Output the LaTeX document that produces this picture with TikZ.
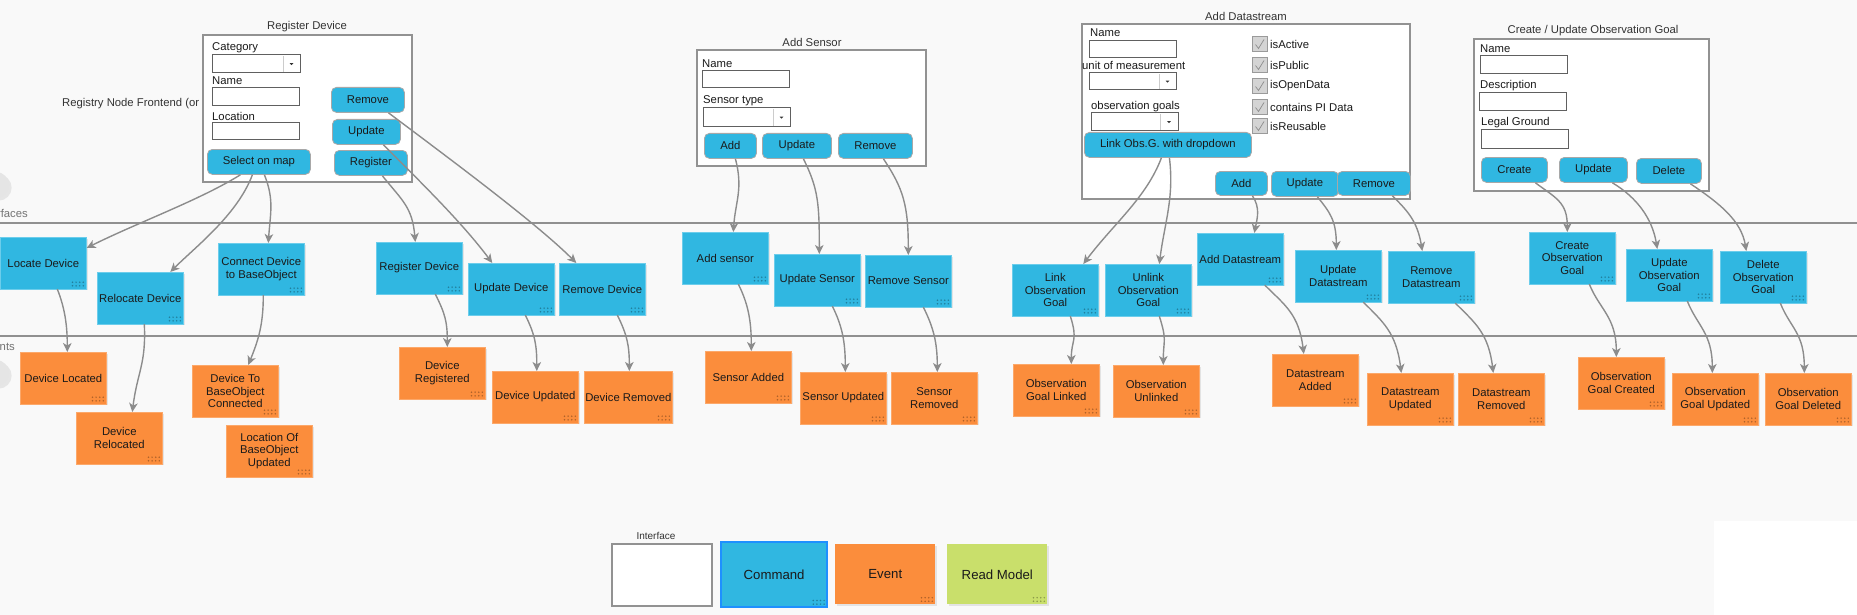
\documentclass[tikz,border=0pt]{standalone}
\usepackage{fontspec}
\setmainfont{Liberation Sans}
\usetikzlibrary{arrows.meta,shadows}
\definecolor{bg}{HTML}{F9F9F9}
\definecolor{cmdc}{HTML}{30B7E1}
\definecolor{cmdb}{HTML}{6CCDEB}
\definecolor{evtc}{HTML}{FB8D3C}
\definecolor{evtb}{HTML}{FCA86A}
\definecolor{rmc}{HTML}{C9DF6B}
\definecolor{lanec}{HTML}{909090}
\definecolor{arrc}{HTML}{8C8C8C}
\definecolor{boxc}{HTML}{929292}
\definecolor{fieldc}{HTML}{606060}
\definecolor{btnb}{HTML}{A8A8A8}
\definecolor{txt}{HTML}{1A1A1A}
\definecolor{ttl}{HTML}{333333}
\definecolor{legb}{HTML}{1E90FF}
\definecolor{chkf}{HTML}{D4D4D4}
\definecolor{chkb}{HTML}{9A9A9A}
\newcommand\nf{\fontsize{11.3}{12.8}\selectfont}
\newcommand\gripdots{\foreach \i in {0,...,3}{\foreach \j in {0,1}{\fill[black,opacity=0.3] ([xshift={-3pt-\i*3.6pt},yshift={3pt+\j*3.6pt}]path picture bounding box.south east) circle (0.85pt);}}}
\tikzset{
  card/.style={anchor=north west, minimum width=86pt, minimum height=51.5pt, inner sep=1pt, align=center, font=\nf, text=txt, line width=0.6pt, drop shadow={shadow xshift=1.2pt, shadow yshift=-1.2pt, opacity=0.18}, path picture={\gripdots}},
  cmd/.style={card, fill=cmdc, draw=cmdb},
  evt/.style={card, fill=evtc, draw=evtb},
  btn/.style={anchor=north west, fill=cmdc, draw=btnb, rounded corners=5pt, line width=0.8pt, inner sep=0pt, font=\nf, text=txt},
  ibox/.style={anchor=north west, fill=white, draw=boxc, line width=1.8pt, inner sep=0pt},
  fld/.style={fill=white, draw=fieldc, line width=1pt},
  lbl/.style={anchor=west, inner sep=0pt, font=\nf, text=txt},
  ttlstyle/.style={inner sep=0pt, font=\nf, text=ttl},
  lane/.style={draw=lanec, line width=2.8pt},
  flow/.style={draw=arrc, line width=1.4pt, -{Stealth[length=9pt,width=8.5pt,inset=2.5pt]}},
}
\newcommand\btn[6]{\node[btn, minimum width={(#4-#2)*1pt}, minimum height={(#5-#3)*1pt}] (#1) at (#2,#3) {#6};}
\newcommand\ibx[5]{\node[ibox, minimum width={(#4-#2)*1pt}, minimum height={(#5-#3)*1pt}] (#1) at (#2,#3) {};}
\newcommand\fld[4]{\draw[fld] (#1,#2) rectangle (#3,#4);}
\newcommand\dd[5]{\draw[fld] (#1,#2) rectangle (#3,#4);
  \draw[draw=black!20, line width=0.8pt] (#5,#2+1) -- (#5,#4-1);
  \fill[black!80] ({(#5+#3)/2-1.8},{(#2+#4)/2-0.8}) -- ({(#5+#3)/2+1.8},{(#2+#4)/2-0.8}) -- ({(#5+#3)/2},{(#2+#4)/2+1.2}) -- cycle;}
\newcommand\chk[3]{\draw[fill=chkf, draw=chkb, line width=0.8pt] (1252,#1-7.5) rectangle (1267,#1+7.5);
  \draw[black!45, line width=0.7pt] (1255.5,#1+0.5) -- (1258.5,#1+4.5) -- (1264,#1-4.5);
  \node[lbl] (#2) at (1270,#1) {#3};}
\begin{document}
\begin{tikzpicture}[x=1pt,y=-1pt]
\clip (0,0) rectangle (1857,615);
\fill[bg] (0,0) rectangle (1857,615);
\fill[white] (1714,521) rectangle (1857,615);
% lanes
\draw[lane] (0,223) -- (1857,223);
\draw[lane] (0,336) -- (1857,336);
\node[anchor=east, inner sep=0pt, font=\nf, text=black!55] (lblif) at (28,213) {Interfaces};
\node[anchor=east, inner sep=0pt, font=\nf, text=black!55] (lblev) at (15,347) {Events};
\fill[black!10, drop shadow={opacity=0.15}] (-4,185) circle (13);
\fill[black!10, drop shadow={opacity=0.15}] (-4,373) circle (13);
\node[lbl, text=ttl] (regfront) at (62,104) {Registry Node Frontend (or};
% ---------- Register Device form
\node[ttlstyle] (t1) at (307,27) {Register Device};
\ibx{rdbox}{202}{34}{411}{181}
\node[lbl] at (212,48) {Category};
\dd{212}{55}{300}{73}{283}
\node[lbl] at (212,81) {Name};
\fld{212}{88}{299}{106}
\node[lbl] at (212,116) {Location};
\fld{212}{123}{299}{140}
\btn{selmap}{207}{149}{310}{174}{Select on map}
\btn{rdremove}{331}{87}{404}{112}{Remove}
\btn{rdupdate}{332}{119}{400}{144}{Update}
\btn{rdregister}{334}{150}{407}{175}{Register}
% ---------- Add Sensor form
\node[ttlstyle] (t2) at (812,42) {Add Sensor};
\ibx{asbox}{696}{49}{925}{165}
\node[lbl] at (702,64) {Name};
\fld{702}{71}{789}{88}
\node[lbl] at (703,101) {Sensor type};
\dd{703}{108}{790}{127}{773}
\btn{sadd}{704}{133}{756}{158}{Add}
\btn{supd}{762}{133}{831}{158}{Update}
\btn{srem}{838}{133}{912}{158}{Remove}
% ---------- Add Datastream form
\node[ttlstyle] (t3) at (1246,16) {Add Datastream};
\ibx{dsbox}{1081}{23}{1409}{198}
\node[lbl] at (1090,33) {Name};
\fld{1089}{41}{1176}{58}
\node[lbl] at (1082,65) {unit of measurement};
\dd{1089}{73}{1176}{90}{1159}
\node[lbl] at (1091,107) {observation goals};
\dd{1091}{113}{1178}{131}{1160}
\btn{linkbtn}{1084}{132}{1251}{157}{Link Obs.G. with dropdown}
\chk{44}{cb1}{isActive}
\chk{65}{cb2}{isPublic}
\chk{86}{cb3}{isOpenData}
\chk{107}{cb4}{contains PI Data}
\chk{126}{cb5}{isReusable}
\btn{dsadd}{1215}{171}{1267}{195}{Add}
\btn{dsupd}{1271}{171}{1338}{196}{Update}
\btn{dsrem}{1337}{171}{1410}{195}{Remove}
% ---------- Observation goal form
\node[ttlstyle] (t4) at (1593,31) {Create / Update Observation Goal};
\ibx{ogbox}{1473}{38}{1708}{190}
\node[lbl] at (1480,49) {Name};
\fld{1480}{56}{1567}{74}
\node[lbl] at (1480,86) {Description};
\fld{1479}{93}{1566}{111}
\node[lbl] at (1481,123) {Legal Ground};
\fld{1481}{130}{1568}{148}
\btn{ogcreate}{1481}{157}{1547}{182}{Create}
\btn{ogupdb}{1559}{157}{1627}{182}{Update}
\btn{ogdelb}{1636}{158}{1701}{183}{Delete}
% ---------- commands
\node[cmd] (locdev) at (0,237) {Locate Device};
\node[cmd] (relocdev) at (97,272) {Relocate Device};
\node[cmd] (conndev) at (218,243) {Connect Device\\to BaseObject};
\node[cmd] (regdev) at (376,242) {Register Device};
\node[cmd] (upddev) at (468,263) {Update Device};
\node[cmd] (remdev) at (559,263) {Remove Device};
\node[cmd] (addsens) at (682,232) {Add sensor};
\node[cmd] (updsens) at (774,254) {Update Sensor};
\node[cmd] (remsens) at (865,255) {Remove Sensor};
\node[cmd] (linkog) at (1012,264) {Link\\Observation\\Goal};
\node[cmd] (unlinkog) at (1105,264) {Unlink\\Observation\\Goal};
\node[cmd] (addds) at (1197,233) {Add Datastream};
\node[cmd] (updds) at (1295,250) {Update\\Datastream};
\node[cmd] (remds) at (1388,251) {Remove\\Datastream};
\node[cmd] (createog) at (1529,232) {Create\\Observation\\Goal};
\node[cmd] (updog) at (1626,249) {Update\\Observation\\Goal};
\node[cmd] (delog) at (1720,251) {Delete\\Observation\\Goal};
% ---------- events
\node[evt] (devlocated) at (20,352) {Device Located};
\node[evt] (devrelocated) at (76,412) {Device\\Relocated};
\node[evt] (devconn) at (192,365) {Device To\\BaseObject\\Connected};
\node[evt] (locupd) at (226,425) {Location Of\\BaseObject\\Updated};
\node[evt] (devreg) at (399,347) {Device\\Registered};
\node[evt] (devupd) at (492,371) {Device Updated};
\node[evt] (devrem) at (584,371) {Device Removed};
\node[evt] (sensadded) at (705,351) {Sensor Added};
\node[evt] (sensupd) at (800,372) {Sensor Updated};
\node[evt] (sensrem) at (891,372) {Sensor\\Removed};
\node[evt] (oglinked) at (1013,364) {Observation\\Goal Linked};
\node[evt] (ogunlinked) at (1113,365) {Observation\\Unlinked};
\node[evt] (dsadded) at (1272,354) {Datastream\\Added};
\node[evt] (dsupdev) at (1367,373) {Datastream\\Updated};
\node[evt] (dsremev) at (1458,373) {Datastream\\Removed};
\node[evt] (ogcreated) at (1578,357) {Observation\\Goal Created};
\node[evt] (ogupdev) at (1672,373) {Observation\\Goal Updated};
\node[evt] (ogdel) at (1765,373) {Observation\\Goal Deleted};
% ---------- connectors
\draw[flow] ([xshift=-18.5pt]selmap.south) .. controls +(-40,25) and +(50,-25) .. ([yshift=-11pt]locdev.north east);
\draw[flow] ([xshift=-6.5pt]selmap.south) .. controls +(-15,40) and +(25,-25) .. ([xshift=30pt]relocdev.north);
\draw[flow] ([xshift=5.5pt]selmap.south) .. controls +(10,25) and +(2,-30) .. ([xshift=7pt]conndev.north);
\draw[flow] ([xshift=11.5pt]rdregister.south) .. controls +(20,25) and +(-3,-35) .. ([xshift=-4pt]regdev.north);
\draw[flow] ([xshift=17pt]rdupdate.south) .. controls +(40,40) and +(-30,-40) .. ([xshift=-19pt]upddev.north);
\draw[flow] ([xshift=20.5pt]rdremove.south) .. controls +(60,45) and +(-40,-40) .. ([xshift=-26pt]remdev.north);
\draw[flow] ([xshift=14pt]locdev.south) .. controls +(8,20) and +(0,-25) .. ([xshift=4pt]devlocated.north);
\draw[flow] ([xshift=4pt]relocdev.south) .. controls +(2,40) and +(5,-40) .. ([xshift=13pt]devrelocated.north);
\draw[flow] ([xshift=2pt]conndev.south) .. controls +(0,30) and +(10,-25) .. ([xshift=13pt]devconn.north);
\draw[flow] ([xshift=16pt]regdev.south) .. controls +(10,20) and +(0,-25) .. ([xshift=5pt]devreg.north);
\draw[flow] ([xshift=14pt]upddev.south) .. controls +(10,20) and +(0,-25) .. ([xshift=1.5pt]devupd.north);
\draw[flow] ([xshift=15pt]remdev.south) .. controls +(10,20) and +(0,-25) .. ([xshift=1pt]devrem.north);
\draw[flow] ([xshift=5pt]sadd.south) .. controls +(8,30) and +(2,-30) .. ([xshift=8pt]addsens.north);
\draw[flow] ([xshift=6.5pt]supd.south) .. controls +(15,30) and +(0,-50) .. ([xshift=2pt]updsens.north);
\draw[flow] ([xshift=8pt]srem.south) .. controls +(20,30) and +(0,-50) .. (remsens.north);
\draw[flow] ([xshift=13pt]addsens.south) .. controls +(10,20) and +(0,-30) .. ([xshift=3pt]sensadded.north);
\draw[flow] ([xshift=15pt]updsens.south) .. controls +(10,20) and +(0,-30) .. ([xshift=2pt]sensupd.north);
\draw[flow] ([xshift=15pt]remsens.south) .. controls +(10,20) and +(0,-30) .. ([xshift=3pt]sensrem.north);
\draw[flow] ([xshift=-6.5pt]linkbtn.south) .. controls +(-15,40) and +(30,-40) .. ([xshift=28pt]linkog.north);
\draw[flow] ([xshift=1.5pt]linkbtn.south) .. controls +(5,40) and +(5,-40) .. ([xshift=11pt]unlinkog.north);
\draw[flow] ([xshift=11pt]dsadd.south) .. controls +(8,12) and +(3,-15) .. ([xshift=14pt]addds.north);
\draw[flow] ([xshift=12.5pt]dsupd.south) .. controls +(12,15) and +(0,-30) .. ([xshift=-2pt]updds.north);
\draw[flow] ([xshift=18.5pt]dsrem.south) .. controls +(15,15) and +(-5,-30) .. ([xshift=-9pt]remds.north);
\draw[flow] ([xshift=15pt]linkog.south) .. controls +(8,25) and +(0,-25) .. ([xshift=15pt]oglinked.north);
\draw[flow] ([xshift=11pt]unlinkog.south) .. controls +(8,25) and +(0,-25) .. ([xshift=7pt]ogunlinked.north);
\draw[flow] ([xshift=24.5pt]addds.south) .. controls +(20,20) and +(-5,-40) .. ([xshift=-11.5pt]dsadded.north);
\draw[flow] ([xshift=25pt]updds.south) .. controls +(20,20) and +(-5,-40) .. ([xshift=-9pt]dsupdev.north);
\draw[flow] ([xshift=24pt]remds.south) .. controls +(20,20) and +(-5,-40) .. ([xshift=-8pt]dsremev.north);
\draw[flow] ([xshift=21pt]ogcreate.south) .. controls +(20,15) and +(0,-30) .. ([xshift=-5pt]createog.north);
\draw[flow] ([xshift=19pt]ogupdb.south) .. controls +(25,15) and +(-5,-30) .. ([xshift=-12pt]updog.north);
\draw[flow] ([xshift=21.5pt]ogdelb.south) .. controls +(30,20) and +(-5,-30) .. ([xshift=-17pt]delog.north);
\draw[flow] ([xshift=17pt]createog.south) .. controls +(10,25) and +(0,-40) .. ([xshift=-5pt]ogcreated.north);
\draw[flow] ([xshift=18pt]updog.south) .. controls +(10,25) and +(0,-40) .. ([xshift=-3pt]ogupdev.north);
\draw[flow] ([xshift=17pt]delog.south) .. controls +(10,25) and +(0,-40) .. ([xshift=-4pt]ogdel.north);
% ---------- legend
\node[inner sep=0pt, font=\fontsize{10}{12}\selectfont, text=ttl] (legif) at (656,536) {Interface};
\ibx{legbox}{611}{543}{711}{605}
\node[card, fill=cmdc, draw=legb, line width=2.2pt, minimum width=106pt, minimum height=65pt, font=\fontsize{13.2}{15}\selectfont] (legcmd) at (720,541) {Command};
\node[card, fill=evtc, draw=none, minimum width=100pt, minimum height=60pt, font=\fontsize{13.2}{15}\selectfont] (legevt) at (835,544) {Event};
\node[card, fill=rmc, draw=none, minimum width=100pt, minimum height=60pt, font=\fontsize{13.2}{15}\selectfont] (legrm) at (947,544) {Read Model};
\end{tikzpicture}
\end{document}
